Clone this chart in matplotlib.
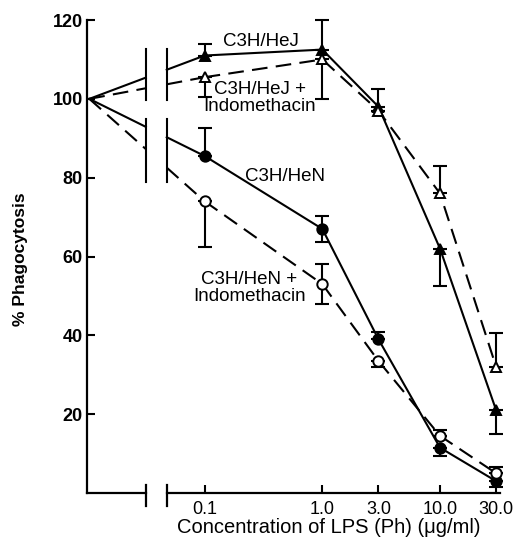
import numpy as np
import matplotlib.pyplot as plt

plt.rcParams['font.family'] = ['Liberation Sans', 'DejaVu Sans']

# LPS concentrations (ug/ml); control (no LPS) sits left of the axis break
conc = [0.1, 1.0, 3.0, 10.0, 30.0]
tick_labels = ['0.1', '1.0', '3.0', '10.0', '30.0']
control = 100

# % phagocytosis with one-sided error bars (lower, upper)
hej = [111, 112.5, 98, 62, 21]
hej_lo = [0, 0, 0, 9.5, 6]
hej_hi = [3, 7.5, 4.5, 0, 0]

hej_indo = [105.5, 110, 97, 76, 32]
hej_indo_lo = [5, 10, 0, 0, 0]
hej_indo_hi = [0, 0, 0, 7, 8.5]

hen = [85.5, 67, 39, 11.5, 3]
hen_lo = [0, 3.3, 0, 2, 1.5]
hen_hi = [7, 3.3, 1.8, 0, 0]

hen_indo = [74, 53, 33.5, 14.5, 5]
hen_indo_lo = [11.5, 5, 1.5, 0, 0]
hen_indo_hi = [0, 5, 0, 1.6, 1.5]

x_ctrl = -1.98
brk = (-1.5, -1.322)
xmin, xmax = -2.0, 1.51

fig = plt.figure(figsize=(5.15, 5.43), dpi=100)
ax = fig.add_axes([0.1689, 0.0921, 0.802, 0.871])

lw = 1.5
dash = (7.5, 4)


def draw(vals, lo, hi, dashed, marker, filled):
    lx = np.log10(conc)
    kw = dict(color='black', lw=lw, clip_on=False, zorder=2)
    if dashed:
        kw['linestyle'] = '--'
        kw['dashes'] = dash
    # control point to first concentration, interrupted at the break
    seg1 = [x_ctrl, brk[0]]
    seg2 = [brk[1], lx[0]]
    ax.plot(seg1, np.interp(seg1, [x_ctrl, lx[0]], [control, vals[0]]), **kw)
    ax.plot(seg2, np.interp(seg2, [x_ctrl, lx[0]], [control, vals[0]]), **kw)
    ax.plot(lx, vals, **kw)
    ax.errorbar(lx, vals, yerr=[lo, hi], fmt='none', ecolor='black',
                elinewidth=1.5, capsize=5, capthick=1.5, clip_on=False, zorder=3)
    ax.plot(lx, vals, linestyle='none', marker=marker, markersize=7.5,
            markerfacecolor='black' if filled else 'white',
            markeredgecolor='black', markeredgewidth=1.4, clip_on=False, zorder=4)


draw(hej, hej_lo, hej_hi, False, '^', True)
draw(hej_indo, hej_indo_lo, hej_indo_hi, True, '^', False)
draw(hen, hen_lo, hen_hi, False, 'o', True)
draw(hen_indo, hen_indo_lo, hen_indo_hi, True, 'o', False)

# break marks through the curves
for bx in brk:
    ax.plot([bx, bx], [99.8, 112.6], color='black', lw=lw, zorder=2)
    ax.plot([bx, bx], [78.8, 94.8], color='black', lw=lw, zorder=2)

# broken x axis
ax.spines['bottom'].set_visible(False)
ax.plot([xmin, brk[0]], [0, 0], color='black', lw=1.6, clip_on=False)
ax.plot([brk[1], xmax], [0, 0], color='black', lw=1.6, clip_on=False)
for bx in brk:
    ax.plot([bx, bx], [-3.3, 2.1], color='black', lw=1.6, clip_on=False)

ax.spines['top'].set_visible(False)
ax.spines['right'].set_visible(False)
ax.spines['left'].set_linewidth(1.6)

ax.set_xlim(xmin, xmax)
ax.set_ylim(0, 120)
ax.set_xticks(np.log10(conc))
ax.set_xticklabels(tick_labels, fontsize=13)
ax.set_yticks([20, 40, 60, 80, 100, 120])
ax.set_yticklabels(['20', '40', '60', '80', '100', '120'], fontsize=13,
                   fontweight='bold')
ax.tick_params(axis='x', direction='in', length=6, width=1.5, pad=6)
ax.tick_params(axis='y', direction='in', length=6, width=1.5, pad=3)

ax.text(0.586, -0.074, 'Concentration of LPS (Ph) (\u03bcg/ml)', transform=ax.transAxes,
        ha='center', va='center', fontsize=14.5)
ax.text(-0.162, 0.495, '% Phagocytosis', transform=ax.transAxes, rotation=90,
        ha='center', va='center', fontsize=12.5, fontweight='bold')

# curve labels
tkw = dict(ha='center', va='center', fontsize=13.5, linespacing=1.0)
ax.text(-0.525, 114.5, 'C3H/HeJ', **tkw)
ax.text(-0.53, 100.2, 'C3H/HeJ +\nIndomethacin', **tkw)
ax.text(-0.314, 80.3, 'C3H/HeN', **tkw)
ax.text(-0.62, 52.0, 'C3H/HeN +\nIndomethacin', **tkw)

fig.savefig('out.png', dpi=100)
